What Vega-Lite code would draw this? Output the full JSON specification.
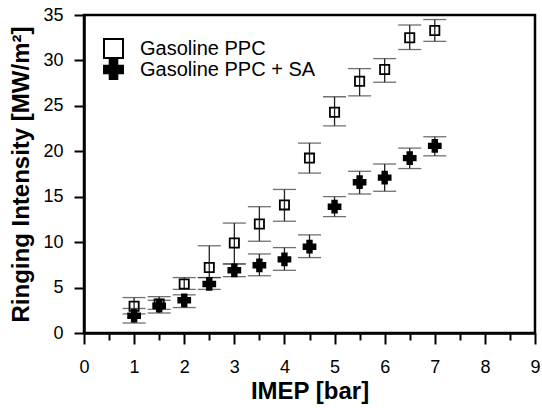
{
  "$schema": "https://vega.github.io/schema/vega-lite/v6.json",
  "autosize": {"type": "none"},
  "width": 451,
  "height": 318,
  "padding": {"left": 84, "top": 15, "right": 7, "bottom": 75},
  "background": "white",
  "config": {
    "font": "Liberation Sans",
    "view": {"stroke": "black", "strokeWidth": 2.5},
    "axis": {"grid": false, "domainColor": "black", "domainWidth": 2.5, "tickColor": "black", "tickWidth": 2, "labelColor": "black", "titleColor": "black", "labelFont": "Liberation Sans", "titleFont": "Liberation Sans", "labelFontSize": 18, "titleFontSize": 24, "titleFontWeight": "bold", "labelOverlap": false, "labelFlush": false}
  },
  "data": {"values": [
    {"series": "Gasoline PPC", "x": 1, "y": 2.95, "lo": 2.1, "hi": 3.9},
    {"series": "Gasoline PPC", "x": 1.5, "y": 3.2, "lo": 2.6, "hi": 4.0},
    {"series": "Gasoline PPC", "x": 2, "y": 5.4, "lo": 4.8, "hi": 6.1},
    {"series": "Gasoline PPC", "x": 2.5, "y": 7.2, "lo": 6.1, "hi": 9.6},
    {"series": "Gasoline PPC", "x": 3, "y": 9.9, "lo": 7.6, "hi": 12.1},
    {"series": "Gasoline PPC", "x": 3.5, "y": 12.0, "lo": 10.1, "hi": 13.9},
    {"series": "Gasoline PPC", "x": 4, "y": 14.1, "lo": 12.3, "hi": 15.8},
    {"series": "Gasoline PPC", "x": 4.5, "y": 19.25, "lo": 17.6, "hi": 20.9},
    {"series": "Gasoline PPC", "x": 5, "y": 24.3, "lo": 22.8, "hi": 26.0},
    {"series": "Gasoline PPC", "x": 5.5, "y": 27.7, "lo": 26.1, "hi": 29.1},
    {"series": "Gasoline PPC", "x": 6, "y": 29.0, "lo": 27.6, "hi": 30.2},
    {"series": "Gasoline PPC", "x": 6.5, "y": 32.5, "lo": 31.2, "hi": 33.9},
    {"series": "Gasoline PPC", "x": 7, "y": 33.3, "lo": 32.1, "hi": 34.5},
    {"series": "Gasoline PPC + SA", "x": 1, "y": 1.9, "lo": 1.1, "hi": 2.7},
    {"series": "Gasoline PPC + SA", "x": 1.5, "y": 3.0, "lo": 2.2, "hi": 3.6},
    {"series": "Gasoline PPC + SA", "x": 2, "y": 3.6, "lo": 2.8, "hi": 4.2},
    {"series": "Gasoline PPC + SA", "x": 2.5, "y": 5.4, "lo": 4.8, "hi": 6.1},
    {"series": "Gasoline PPC + SA", "x": 3, "y": 6.9, "lo": 6.2, "hi": 7.6},
    {"series": "Gasoline PPC + SA", "x": 3.5, "y": 7.45, "lo": 6.3, "hi": 8.7},
    {"series": "Gasoline PPC + SA", "x": 4, "y": 8.1, "lo": 6.9, "hi": 9.4},
    {"series": "Gasoline PPC + SA", "x": 4.5, "y": 9.5, "lo": 8.3, "hi": 10.8},
    {"series": "Gasoline PPC + SA", "x": 5, "y": 13.9, "lo": 12.8, "hi": 15.0},
    {"series": "Gasoline PPC + SA", "x": 5.5, "y": 16.6, "lo": 15.3, "hi": 17.8},
    {"series": "Gasoline PPC + SA", "x": 6, "y": 17.1, "lo": 15.6, "hi": 18.6},
    {"series": "Gasoline PPC + SA", "x": 6.5, "y": 19.25, "lo": 18.1, "hi": 20.35},
    {"series": "Gasoline PPC + SA", "x": 7, "y": 20.6, "lo": 19.5, "hi": 21.6}
  ]},
  "encoding": {
    "x": {"field": "x", "type": "quantitative", "scale": {"domain": [0, 9], "nice": false},
      "axis": {"title": "IMEP [bar]", "values": [0,0.5,1,1.5,2,2.5,3,3.5,4,4.5,5,5.5,6,6.5,7,7.5,8,8.5,9],
        "labelExpr": "datum.value % 1 === 0 ? format(datum.value, 'd') : ''",
        "tickSize": {"condition": {"test": "datum.value % 1 === 0", "value": 11}, "value": 7},
        "labelPadding": 14, "titlePadding": 3}}
  },
  "layer": [
    {
      "mark": {"type": "rule", "color": "#222", "strokeWidth": 1.3},
      "encoding": {
        "y": {"field": "lo", "type": "quantitative", "scale": {"domain": [0, 35], "nice": false},
          "axis": {"title": "Ringing Intensity [MW/m²]", "values": [0,2.5,5,7.5,10,12.5,15,17.5,20,22.5,25,27.5,30,32.5,35],
            "labelExpr": "datum.value % 5 === 0 ? format(datum.value, 'd') : ''",
            "tickSize": {"condition": {"test": "datum.value % 5 === 0", "value": 10}, "value": 7},
            "labelPadding": 11, "titlePadding": 9}},
        "y2": {"field": "hi"}
      }
    },
    {
      "mark": {"type": "tick", "orient": "horizontal", "color": "#333", "size": 23, "thickness": 1.3},
      "encoding": {"y": {"field": "lo", "type": "quantitative"}}
    },
    {
      "mark": {"type": "tick", "orient": "horizontal", "color": "#333", "size": 23, "thickness": 1.3},
      "encoding": {"y": {"field": "hi", "type": "quantitative"}}
    },
    {
      "transform": [{"filter": "datum.series === 'Gasoline PPC'"}],
      "mark": {"type": "point", "filled": true, "strokeWidth": 1.8, "opacity": 1, "size": 85},
      "encoding": {
        "y": {"field": "y", "type": "quantitative"},
        "shape": {"field": "series", "type": "nominal", "scale": {"domain": ["Gasoline PPC", "Gasoline PPC + SA"], "range": ["square", "cross"]},
          "legend": {"title": null, "orient": "none", "legendX": 19, "legendY": 23, "symbolSize": 360, "symbolStrokeWidth": 2, "labelFontSize": 20, "labelFont": "Liberation Sans", "labelColor": "black", "labelOffset": 16, "labelLimit": 400, "clipHeight": 21, "rowPadding": 0, "padding": 0}},
        "fill": {"field": "series", "type": "nominal", "scale": {"domain": ["Gasoline PPC", "Gasoline PPC + SA"], "range": ["transparent", "black"]}},
        "stroke": {"field": "series", "type": "nominal", "scale": {"domain": ["Gasoline PPC", "Gasoline PPC + SA"], "range": ["black", "black"]}}
      }
    },
    {
      "transform": [{"filter": "datum.series === 'Gasoline PPC + SA'"}],
      "mark": {"type": "point", "filled": true, "strokeWidth": 1.5, "opacity": 1, "size": 150},
      "encoding": {
        "y": {"field": "y", "type": "quantitative"},
        "shape": {"field": "series", "type": "nominal"},
        "fill": {"field": "series", "type": "nominal"},
        "stroke": {"field": "series", "type": "nominal"}
      }
    }
  ]
}
